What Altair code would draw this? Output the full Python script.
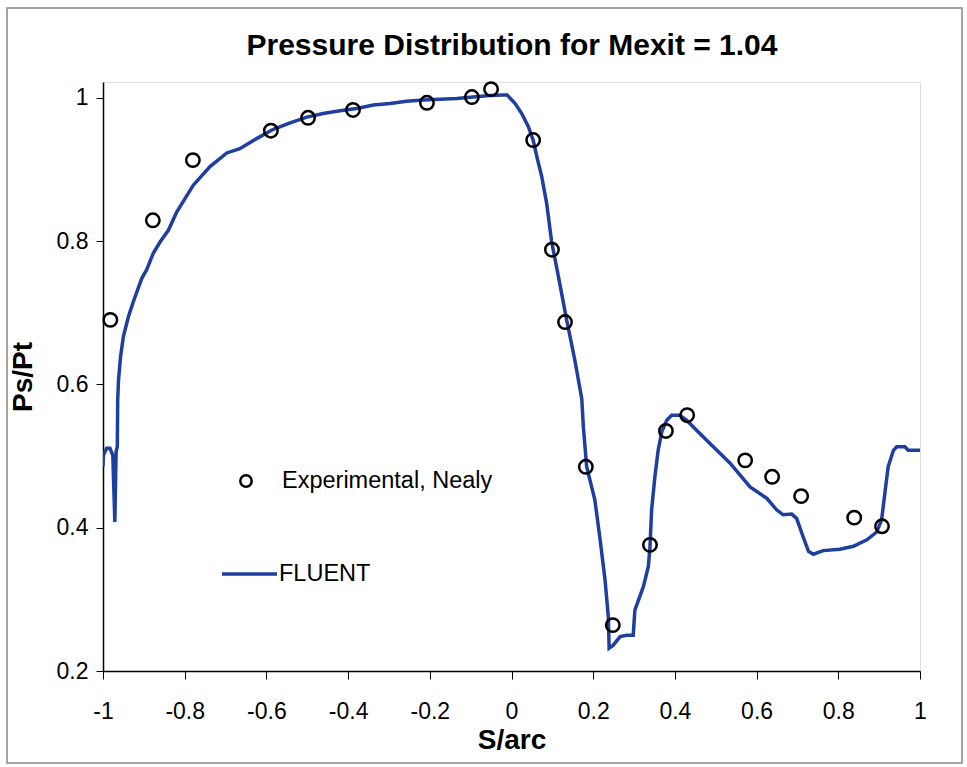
import altair as alt
import pandas as pd

# Experimental surface pressure (Nealy)
exp_s = [-0.982, -0.878, -0.780, -0.589, -0.498, -0.388, -0.207, -0.097, -0.050,
         0.053, 0.099, 0.131, 0.182, 0.248, 0.339, 0.378, 0.430,
         0.572, 0.638, 0.709, 0.839, 0.907]
exp_p = [0.690, 0.829, 0.913, 0.954, 0.972, 0.983, 0.993, 1.001, 1.012,
         0.941, 0.788, 0.687, 0.485, 0.264, 0.376, 0.535, 0.557,
         0.494, 0.471, 0.444, 0.414, 0.402]

# FLUENT prediction
cfd_s = [-1.000, -0.999, -0.991, -0.983, -0.976, -0.971, -0.968, -0.965, -0.964, -0.962,
         -0.957, -0.950, -0.938, -0.926, -0.914, -0.905, -0.893, -0.877, -0.860, -0.840,
         -0.820, -0.779, -0.738, -0.697, -0.665, -0.624, -0.583, -0.542, -0.501, -0.461,
         -0.420, -0.379, -0.338, -0.297, -0.257, -0.216, -0.175, -0.134, -0.094, -0.053,
         -0.020, -0.011, -0.001, 0.009, 0.025, 0.041, 0.053, 0.062, 0.074, 0.086,
         0.098, 0.115, 0.135, 0.155, 0.172, 0.176, 0.184, 0.204, 0.217, 0.229,
         0.237, 0.239, 0.249, 0.266, 0.282, 0.298, 0.302, 0.323, 0.335, 0.339,
         0.343, 0.351, 0.359, 0.368, 0.380, 0.392, 0.412, 0.429, 0.453, 0.494,
         0.535, 0.584, 0.625, 0.649, 0.665, 0.686, 0.698, 0.714, 0.727, 0.739,
         0.763, 0.804, 0.837, 0.870, 0.894, 0.906, 0.914, 0.922, 0.935, 0.943,
         0.963, 0.971, 1.000]
cfd_p = [0.485, 0.501, 0.511, 0.511, 0.501, 0.408, 0.506, 0.513, 0.578, 0.606,
         0.639, 0.667, 0.694, 0.715, 0.734, 0.748, 0.760, 0.783, 0.799, 0.815,
         0.840, 0.878, 0.904, 0.923, 0.929, 0.943, 0.956, 0.965, 0.973, 0.978,
         0.982, 0.985, 0.990, 0.992, 0.995, 0.997, 0.998, 0.999, 1.001, 1.003,
         1.004, 1.004, 0.998, 0.992, 0.978, 0.960, 0.941, 0.918, 0.890, 0.853,
         0.800, 0.750, 0.690, 0.634, 0.580, 0.540, 0.485, 0.439, 0.383, 0.327,
         0.276, 0.232, 0.236, 0.248, 0.250, 0.250, 0.285, 0.318, 0.346, 0.373,
         0.425, 0.471, 0.508, 0.534, 0.550, 0.557, 0.557, 0.550, 0.536, 0.513,
         0.490, 0.457, 0.441, 0.425, 0.418, 0.419, 0.413, 0.387, 0.367, 0.363,
         0.368, 0.370, 0.374, 0.383, 0.394, 0.411, 0.448, 0.485, 0.508, 0.513,
         0.513, 0.508, 0.508]

x_ticks = [-1, -0.8, -0.6, -0.4, -0.2, 0, 0.2, 0.4, 0.6, 0.8, 1]
y_ticks = [0.2, 0.4, 0.6, 0.8, 1]

TITLE = "Pressure Distribution for Mexit = 1.04"
FONT = "Liberation Sans"
BLUE = "#1e3ea0"

exp_df = pd.DataFrame({"s": exp_s, "p": exp_p})
cfd_df = pd.DataFrame({"s": cfd_s, "p": cfd_p, "order": range(len(cfd_s))})

x_scale = alt.Scale(domain=[-1, 1], nice=False, zero=False)
y_scale = alt.Scale(domain=[0.2, 1.022], nice=False, zero=False)

x_axis = alt.Axis(values=x_ticks, labelExpr="'' + datum.value", grid=False,
                  title="S/arc", titleFont=FONT, titleFontSize=28, titleFontWeight="bold",
                  titleColor="black", titlePadding=3,
                  labelFont=FONT, labelFontSize=23, labelColor="black", labelPadding=21,
                  tickSize=8, tickColor="black", domainColor="black", domainWidth=1.5,
                  labelFlush=False)
y_axis = alt.Axis(values=y_ticks, labelExpr="'' + datum.value", grid=False,
                  title="Ps/Pt", titleFont=FONT, titleFontSize=28, titleFontWeight="bold",
                  titleColor="black", titlePadding=19,
                  labelFont=FONT, labelFontSize=23, labelColor="black", labelPadding=8,
                  tickSize=7, tickColor="black", domainColor="black", domainWidth=1.5,
                  labelFlush=False)

line = alt.Chart(cfd_df).mark_line(color=BLUE, strokeWidth=3.5, clip=True).encode(
    x=alt.X("s:Q", scale=x_scale, axis=x_axis),
    y=alt.Y("p:Q", scale=y_scale, axis=y_axis),
    order="order:Q",
)

points = alt.Chart(exp_df).mark_point(shape="circle", filled=False, color="black",
                                      size=180, strokeWidth=2.5, opacity=1).encode(
    x=alt.X("s:Q", scale=x_scale),
    y=alt.Y("p:Q", scale=y_scale),
)

one = pd.DataFrame({"k": [0]})

# Chart heading, centred over the plot area
heading = alt.Chart(one).mark_text(
    text=TITLE, font=FONT, fontSize=30, fontWeight="bold", align="center",
    baseline="middle", color="black"
).encode(x=alt.value(409), y=alt.value(-36))

# Hand-placed legend inside the plot area
leg_pt = alt.Chart(one).mark_point(
    shape="circle", filled=False, color="black", size=130, strokeWidth=2.5, opacity=1
).encode(x=alt.value(143), y=alt.value(399))
leg_pt_txt = alt.Chart(one).mark_text(
    text="Experimental, Nealy", font=FONT, fontSize=23.5, align="left", baseline="middle", color="black"
).encode(x=alt.value(179), y=alt.value(399))
leg_ln = alt.Chart(one).mark_rule(color=BLUE, strokeWidth=3.5).encode(
    x=alt.value(119), x2=alt.value(174), y=alt.value(492)
)
leg_ln_txt = alt.Chart(one).mark_text(
    text="FLUENT", font=FONT, fontSize=23.5, align="left", baseline="middle", color="black"
).encode(x=alt.value(176), y=alt.value(492))

# Outer frame around the whole figure
frame = alt.Chart(one).mark_rect(
    fill=None, stroke="#888888", strokeWidth=1.5, clip=False
).encode(x=alt.value(-96), x2=alt.value(859), y=alt.value(-74), y2=alt.value(681))

chart = alt.layer(frame, line, points, heading, leg_pt, leg_pt_txt, leg_ln, leg_ln_txt).properties(
    width=817,
    height=589,
    padding={"left": 103, "top": 82, "right": 47, "bottom": 96},
    autosize=alt.AutoSizeParams(type="none"),
).configure_view(stroke="#9a8a8a", strokeWidth=1.5).configure(background="white")

chart.save("out.html", embed_options={"renderer": "svg", "actions": False})
